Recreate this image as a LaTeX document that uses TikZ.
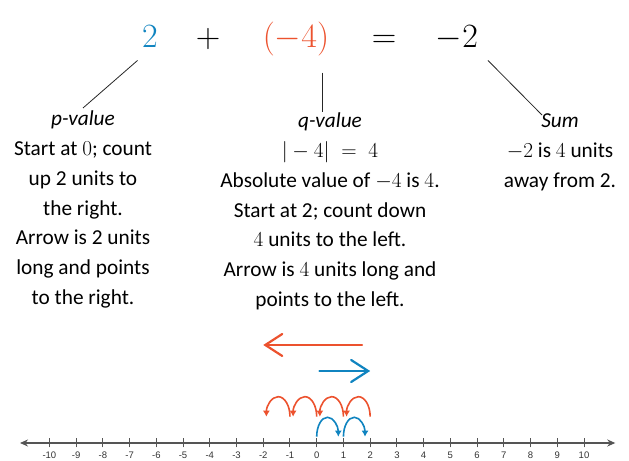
\RequirePackage{fix-cm}
\documentclass[tikz,border=0pt]{standalone}
\usepackage{fontspec}
\setmainfont{Carlito}
\newfontfamily\ticksans{Liberation Sans}
\usetikzlibrary{arrows.meta}

\definecolor{pblue}{RGB}{16,132,192}
\definecolor{qred}{RGB}{236,82,46}
\definecolor{linegray}{RGB}{85,85,85}

\tikzset{
  eqterm/.style={font=\fontsize{34bp}{40bp}\selectfont,anchor=base,inner sep=0pt},
  textblock/.style={font=\fontsize{21.3bp}{29.7bp}\selectfont,align=center,anchor=north,inner sep=0pt},
  pointer/.style={draw=black!85,line width=0.8bp},
  bigarrow/.style={line width=2.2bp,line cap=round,-{Straight Barb[length=17bp,width=22bp,line cap=round]}},
  hop/.style={line width=1.6bp,-{Latex[length=6bp,width=7bp]}},
  ticklabel/.style={font=\ticksans\fontsize{9.5bp}{11bp}\selectfont,anchor=base,inner sep=0pt,text=black!80},
}

\begin{document}
\begin{tikzpicture}[x=1bp,y=1bp]
    \useasboundingbox (0,0) rectangle (629,461);
    % the sum written out
    \node[eqterm,pblue] (p) at (150,413.4) {$2$};
    \node[eqterm] (plus) at (208,413.4) {$+$};
    \node[eqterm,qred] (q) at (296,413.4) {$(-4)$};
    \node[eqterm] (eq) at (384,413.4) {$=$};
    \node[eqterm] (sum) at (457,413.4) {$-2$};

    % what each part means
    \node[textblock] (pblock) at (83,350) {\textit{p-value}\\
        Start at $0$; count\\ up 2 units to\\ the right.\\
        Arrow is 2 units\\ long and points\\ to the right.};
    \node[textblock] (qblock) at (330,348) {\textit{q-value}\\
        $|-4|\;=\;4$\\ Absolute value of $-4$ is $4$.\\
        Start at 2; count down\\ $4$ units to the left.\\
        Arrow is $4$ units long and\\ points to the left.};
    \node[textblock] (sblock) at (560,347) {\textit{Sum}\\
        $-2$ is $4$ units\\ away from 2.};

    \coordinate (pTop) at (137.5,400.5);
    \coordinate (qTop) at (322.6,388.4);
    \coordinate (sTop) at (488,400.5);
    \draw[pointer] (pTop) -- ([yshift=3bp]pblock.north);
    \draw[pointer] (qTop) -- ([yshift=1bp]qTop |- qblock.north);
    \draw[pointer] (sTop) -- ([yshift=-1bp]sblock.north -| 542,0);

    % number line
    \begin{scope}[shift={(316.7,18)},x=26.73bp]
        \draw[linegray,line width=1.3bp,
            {Stealth[length=8bp,width=7bp]}-{Stealth[length=8bp,width=7bp]}]
            (-11.1,0) -- (11.17,0);
        \foreach \n in {-10,...,10} {
            \draw[linegray,line width=1bp] (\n,-4.5) -- (\n,4.5);
            \node[ticklabel] (t\n) at (\n,-15.8) {\n};
        }
        \draw[bigarrow,qred] (1.7,98) -- (-2,98);
        \draw[bigarrow,pblue] (0.1,72) -- (2,72);
        \foreach \k in {2,1,0,-1}
            \draw[hop,qred] (\k,26.3)
                arc[start angle=0,end angle=180,x radius=11.8bp,y radius=20bp];
        \foreach \k in {0,1}
            \draw[hop,pblue] (\k,6.3)
                arc[start angle=180,end angle=0,x radius=10.8bp,y radius=19.4bp];
    \end{scope}
\end{tikzpicture}
\end{document}
